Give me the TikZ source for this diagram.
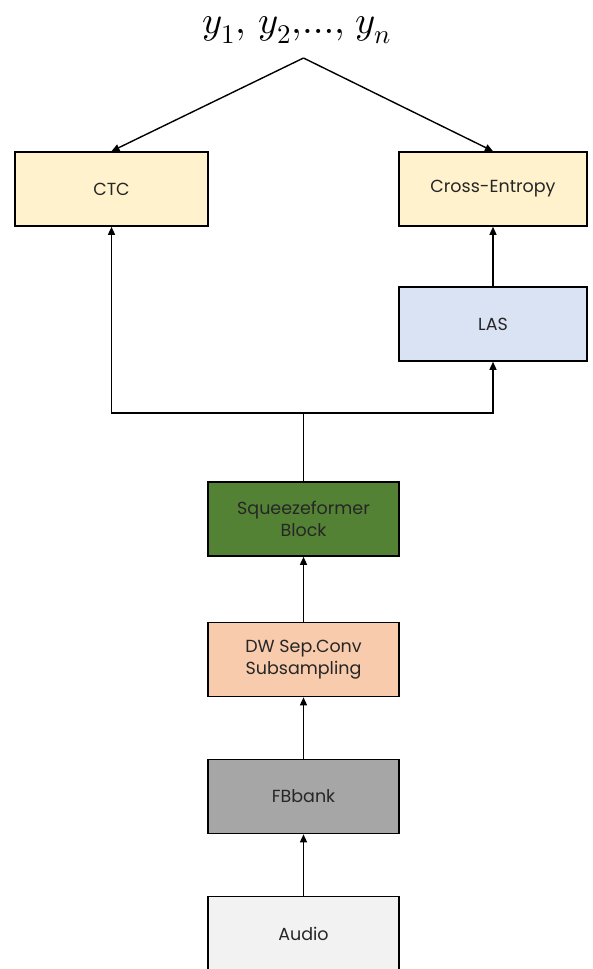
\documentclass[tikz,border=0pt]{standalone}
\usepackage{fontspec}
\usepackage{unicode-math}
\setmainfont{Poppins}
\setmathfont{Latin Modern Math}
\usetikzlibrary{arrows.meta}
\definecolor{lossfill}{HTML}{FFF2CC}
\definecolor{lasfill}{HTML}{DAE3F3}
\definecolor{sqfill}{HTML}{548235}
\definecolor{dwfill}{HTML}{F8CBAD}
\definecolor{fbfill}{HTML}{A6A6A6}
\definecolor{audiofill}{HTML}{F2F2F2}
\tikzset{
  blk/.style={draw=black, line width=1.6pt, minimum width=191pt, minimum height=74pt,
    inner sep=0pt, align=center, font=\fontsize{17.5}{22}\selectfont, text=black!85},
  conn/.style={line width=1.4pt, -{Triangle[length=8pt,width=7pt]}},
  plain/.style={line width=1.4pt}
}
\begin{document}
\begin{tikzpicture}[x=1pt,y=-1pt]
  \useasboundingbox (0,0) rectangle (593,969);
  \clip (0,0) rectangle (593,969);
  % output labels
  \node (out) at (297,30) {\fontsize{38.5}{44}\selectfont $y_1,\, y_2{,}{\ldots}{,}\; y_n$};
  \coordinate (apex) at (303.5,58);
  % loss heads
  \node[blk, fill=lossfill, minimum width=193pt] (ctc) at (111.5,189) {CTC};
  \node[blk, fill=lossfill, minimum width=188pt] (ce) at (493,189) {Cross-Entropy};
  \node[blk, fill=lasfill, minimum width=188pt] (las) at (493,324) {LAS};
  % encoder stack
  \node[blk, fill=sqfill] (sq) at (303.5,519) {Squeezeformer\\Block};
  \node[blk, fill=dwfill] (dw) at (303.5,659.5) {DW Sep.Conv\\Subsampling};
  \node[blk, fill=fbfill] (fb) at (303.5,796.5) {FBbank};
  \node[blk, fill=audiofill, minimum height=75pt] (audio) at (303.5,934) {Audio};
  % connectors
  \draw[conn] (apex) -- (ctc.north);
  \draw[conn] (apex) -- (ce.north);
  \draw[conn] (las) -- (ce);
  \coordinate (split) at (303.5,413);
  \draw[plain] (sq.north) -- (split);
  \draw[conn] (split) -| (ctc.south);
  \draw[conn] (split) -| (las.south);
  \draw[conn] (dw) -- (sq);
  \draw[conn] (fb) -- (dw);
  \draw[conn] (audio) -- (fb);
\end{tikzpicture}
\end{document}
